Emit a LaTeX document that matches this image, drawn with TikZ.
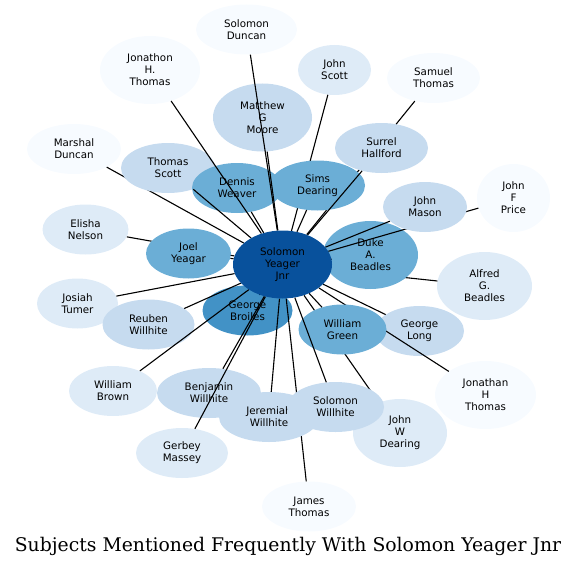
\documentclass[tikz,border=0pt]{standalone}
\usepackage{fontspec}
\setsansfont{DejaVu Sans}
\newfontfamily\captionfont{DejaVu Serif}
\usepackage{tikz}
\usetikzlibrary{shapes.geometric}
\definecolor{blue_0}{HTML}{F7FBFF}
\definecolor{blue_1}{HTML}{DEEBF7}
\definecolor{blue_2}{HTML}{C6DBEF}
\definecolor{blue_4}{HTML}{6BAED6}
\definecolor{blue_5}{HTML}{4292C6}
\definecolor{blue_7}{HTML}{08519C}
\pgfdeclarelayer{n_low}
\pgfdeclarelayer{e_low}
\pgfdeclarelayer{n_mid}
\pgfdeclarelayer{e_high}
\pgfdeclarelayer{n_top}
\pgfsetlayers{n_low,e_low,n_mid,e_high,n_top,main}
\tikzstyle{subj} = [ellipse, inner sep=0pt, align=center, text=black, font=\sffamily\fontsize{10.3}{12}\selectfont]
\tikzstyle{subj_0} = [subj, fill=blue_0]
\tikzstyle{subj_1} = [subj, fill=blue_1]
\tikzstyle{subj_2} = [subj, fill=blue_2]
\tikzstyle{subj_4} = [subj, fill=blue_4]
\tikzstyle{subj_5} = [subj, fill=blue_5]
\tikzstyle{subj_7} = [subj, fill=blue_7]
\tikzstyle{two} = [minimum height=50pt]
\tikzstyle{three} = [minimum height=68pt]
\tikzstyle{link} = [draw=black, line width=1.1pt]
\begin{document}
\begin{tikzpicture}[x=1pt,y=-1pt]
\useasboundingbox (0,0) rectangle (577,567);
\begin{pgfonlayer}{n_low}
\node [subj_0, two, minimum width=101pt] (sol_duncan) at (246.5,29.5) {Solomon\\Duncan};
\node [subj_0, three, minimum width=100pt] (jon_thomas) at (150,70) {Jonathon\\H.\\Thomas};
\node [subj_1, two, minimum width=73pt] (john_scott) at (334.5,70) {John\\Scott};
\node [subj_0, two, minimum width=93pt] (sam_thomas) at (433.5,78) {Samuel\\Thomas};
\node [subj_2, three, minimum width=99pt] (moore) at (262.5,117.5) {Matthew\\G\\Moore};
\node [subj_0, two, minimum width=94pt] (marshal) at (74,149) {Marshal\\Duncan};
\node [subj_0, three, minimum width=73pt] (price) at (513.5,198) {John\\F\\Price};
\node [subj_1, two, minimum width=86pt] (elisha) at (85.5,229.5) {Elisha\\Nelson};
\node [subj_1, three, minimum width=95pt] (alfred) at (484.5,286) {Alfred\\G.\\Beadles};
\node [subj_1, two, minimum width=81pt] (josiah) at (77.5,303.5) {Josiah\\Tumer};
\node [subj_2, two, minimum width=92pt] (reuben) at (148.5,324.5) {Reuben\\Willhite};
\node [subj_5, two, minimum width=90pt] (broiles) at (247.5,310.5) {George\\Broiles};
\node [subj_2, two, minimum width=89pt] (long) at (419.5,331) {George\\Long};
\node [subj_0, three, minimum width=101pt] (jonathan_h) at (485.5,395) {Jonathan\\H\\Thomas};
\node [subj_1, two, minimum width=88pt] (w_brown) at (113,391) {William\\Brown};
\node [subj_2, two, minimum width=104pt] (benjamin) at (209,393) {Benjamin\\Willhite};
\node [subj_1, three, minimum width=94pt] (w_dearing) at (400,433) {John\\W\\Dearing};
\node [subj_1, two, minimum width=92pt] (gerbey) at (182,453) {Gerbey\\Massey};
\node [subj_0, two, minimum width=94pt] (james) at (309,506.5) {James\\Thomas};
\end{pgfonlayer}
\begin{pgfonlayer}{n_mid}
\node [subj_2, two, minimum width=93pt] (hallford) at (381.5,148) {Surrel\\Hallford};
\node [subj_2, two, minimum width=94pt] (t_scott) at (168,168) {Thomas\\Scott};
\node [subj_4, two, minimum width=90pt] (weaver) at (237,188) {Dennis\\Weaver};
\node [subj_4, two, minimum width=95pt] (sims) at (317.5,185.5) {Sims\\Dearing};
\node [subj_4, two, minimum width=85pt] (joel) at (188.5,253.5) {Joel\\Yeagar};
\node [subj_4, three, minimum width=95pt] (duke) at (370.5,255) {Duke\\A.\\Beadles};
\node [subj_4, two, minimum width=88pt] (green) at (342.5,329.5) {William\\Green};
\node [subj_2, two, minimum width=100pt] (jeremiah) at (269,417) {Jeremiah\\Willhite};
\node [subj_2, two, minimum width=97pt] (sol_willhite) at (335.5,407) {Solomon\\Willhite};
\end{pgfonlayer}
\begin{pgfonlayer}{n_top}
\node [subj_2, two, minimum width=84pt] (mason) at (425,207) {John\\Mason};
\end{pgfonlayer}
\node [subj_7, three, minimum width=99pt] (yeager) at (282.5,264.5) {Solomon\\Yeager\\Jnr};
\node [font=\captionfont\fontsize{18.8}{22}\selectfont] (caption) at (288,546) {Subjects Mentioned Frequently With Solomon Yeager Jnr};
\begin{pgfonlayer}{e_low}
\foreach \other in {sam_thomas,marshal,john_scott,elisha,alfred,jonathan_h,w_dearing,james}
    \draw [link] (yeager) -- (\other);
\end{pgfonlayer}
\begin{pgfonlayer}{e_high}
\foreach \other in {sol_duncan,jon_thomas,moore,t_scott,hallford,weaver,sims,mason,price,joel,duke,
    josiah,reuben,broiles,green,long,w_brown,benjamin,gerbey,jeremiah,sol_willhite}
    \draw [link] (yeager) -- (\other);
\end{pgfonlayer}
\end{tikzpicture}
\end{document}
